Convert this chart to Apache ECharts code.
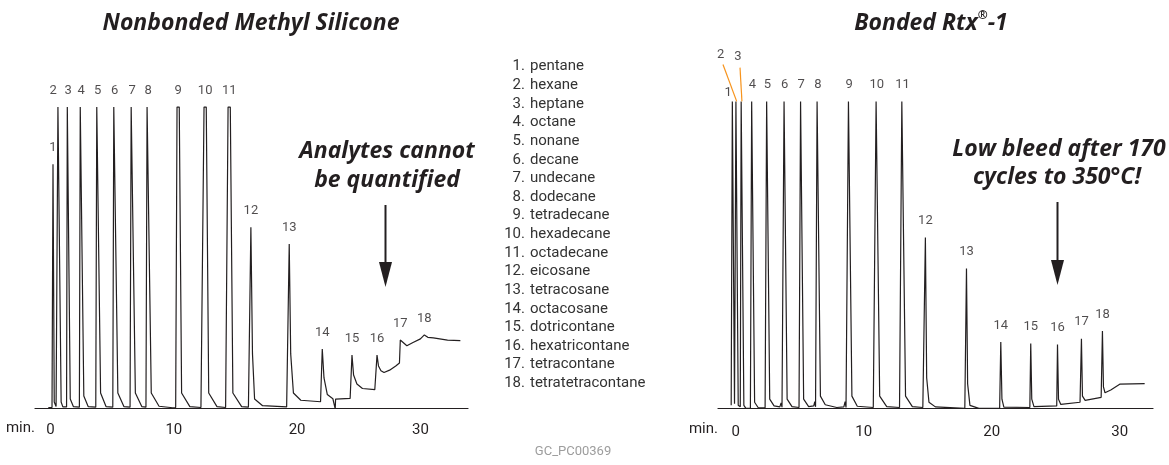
<!DOCTYPE html>
<html>
<head>
<meta charset="utf-8">
<title>Nonbonded vs bonded column bleed</title>
<script src="https://cdn.jsdelivr.net/npm/echarts@6/dist/echarts.min.js"></script>
<style>
  html, body { margin: 0; padding: 0; background: #fff; }
  #chart { width: 1169px; height: 465px; }
</style>
</head>
<body>
<div id="chart"></div>
<script>
// peak list
const compounds = ['pentane', 'hexane', 'heptane', 'octane', 'nonane', 'decane', 'undecane', 'dodecane',
  'tetradecane', 'hexadecane', 'octadecane', 'eicosane', 'tetracosane', 'octacosane', 'dotricontane',
  'hexatricontane', 'tetracontane', 'tetratetracontane']
const tickValues = [0, 10, 20, 30]

// retention time (min) and height (% of full scale) of each numbered peak
const leftPeakTimes = [0.2, 0.69, 1.42, 2.48, 3.83, 5.21, 6.62, 7.91, 10.35, 12.54, 14.49, 16.25, 19.36, 22.04, 24.45, 26.48, 28.37, 30.32]
const leftPeakHeights = [81, 100, 100, 100, 100, 100, 100, 100, 100, 100, 100, 60.1, 54.5, 19.6, 17.6, 17.6, 22.6, 24.3]
const rightPeakTimes = [-0.19, 0.08, 0.49, 1.3, 2.47, 3.83, 5.12, 6.42, 8.87, 11.03, 13.04, 14.82, 18.03, 20.71, 23.05, 25.14, 27.01, 28.65]
const rightPeakHeights = [100, 100, 100, 100, 100, 100, 100, 100, 100, 100, 100, 55.7, 45.6, 21.6, 21.1, 20.8, 22.7, 25.2]

// detector traces [min, signal]
const leftTrace = [
  [-0.18, 0.2], [0.12, 0.2], [0.2, 81], [0.3, 2],
  [0.45, 0.5], [0.6, 100], [0.76, 100], [0.86, 2], [1.0, 0.4],
  [1.3, 0.4], [1.36, 100], [1.48, 100], [1.6, 3], [1.85, 0.5],
  [2.34, 0.3], [2.41, 100], [2.55, 100], [2.7, 4], [3.05, 0.5],
  [3.67, 0.3], [3.75, 100], [3.9, 100], [4.06, 5], [4.5, 0.5],
  [5.05, 0.3], [5.13, 100], [5.29, 100], [5.46, 5], [5.95, 0.5],
  [6.45, 0.3], [6.54, 100], [6.7, 100], [6.88, 5], [7.4, 0.5],
  [7.74, 0.3], [7.83, 100], [7.99, 100], [8.17, 5], [8.8, 0.6], [9.9, 0.1],
  [10.15, 0.2], [10.26, 100], [10.44, 100], [10.63, 5], [11.3, 0.5], [12.2, 0.2],
  [12.35, 0.2], [12.45, 100], [12.63, 100], [12.83, 5], [13.5, 0.5], [14.2, 0.2],
  [14.3, 0.2], [14.4, 100], [14.58, 100], [14.79, 5], [15.5, 0.5], [16.05, 0.3],
  [16.12, 0.3], [16.25, 60.1], [16.38, 18], [16.55, 3], [17.2, 0.8], [19.15, 0.4],
  [19.25, 0.4], [19.36, 54.5], [19.48, 18], [19.7, 5], [20.3, 2.6], [21.9, 2.1],
  [21.98, 2.1], [22.04, 19.6], [22.18, 10], [22.45, 4.5], [22.9, 3.1], [23.06, 3], [23.09, -0.3], [23.12, 3], [24.3, 3.2],
  [24.38, 3.3], [24.45, 17.6], [24.58, 11], [24.85, 8], [25.3, 6.5], [26.3, 6.1],
  [26.4, 6.3], [26.48, 17.6], [26.6, 14], [26.8, 12.4], [27.05, 11.8], [27.5, 12.6], [28.0, 14], [28.3, 15],
  [28.37, 22.6], [28.5, 22], [28.9, 20.7], [29.4, 21.8], [30.0, 23], [30.32, 24.3], [30.6, 23.5], [31.05, 23.3], [32.2, 22.6], [33.24, 22.4]
]
const rightTrace = [
  [-0.35, 1], [-0.26, 100], [-0.15, 100], [-0.09, 1.5], [0.02, 100], [0.13, 100], [0.2, 1], [0.3, 0.5],
  [0.36, 0.5], [0.43, 100], [0.55, 100], [0.64, 1], [0.8, 0], [1.15, 0],
  [1.22, 0.4], [1.25, 100], [1.36, 100], [1.48, 2], [1.75, 0.3], [2.3, 0.2],
  [2.38, 0.3], [2.42, 100], [2.53, 100], [2.66, 3], [3.0, 0.8], [3.45, 0.5], [3.55, 1.8], [3.62, 0.4],
  [3.72, 0.3], [3.78, 100], [3.89, 100], [4.02, 3], [4.4, 0.6], [4.95, 0.3],
  [5.02, 0.3], [5.07, 100], [5.18, 100], [5.31, 3], [5.7, 0.6], [6.1, 0.8], [6.18, 2.2], [6.24, 0.5],
  [6.31, 0.3], [6.36, 100], [6.48, 100], [6.62, 4], [7.0, 1.2], [7.9, 0.3], [8.45, 0.5], [8.55, 2.2], [8.62, 0.3],
  [8.74, 0.3], [8.81, 100], [8.93, 100], [9.08, 4], [9.5, 0.7], [10.75, 0.3],
  [10.9, 0.3], [10.97, 100], [11.09, 100], [11.25, 4], [11.8, 0.6], [12.8, 0.3],
  [12.9, 0.3], [12.98, 100], [13.1, 100], [13.27, 4], [13.8, 0.6], [14.62, 0.3],
  [14.72, 0.3], [14.82, 55.7], [14.92, 10], [15.1, 2], [15.6, 0.5], [17.9, 0],
  [17.96, 0], [18.03, 45.6], [18.12, 8], [18.3, 1], [19.0, 0], [20.62, 0],
  [20.66, 0], [20.71, 21.6], [20.8, 3], [20.95, 0.4], [22.98, 0.3],
  [23.01, 0.3], [23.05, 21.1], [23.13, 3], [23.3, 0.6], [25.08, 0.8],
  [25.1, 0.8], [25.14, 20.8], [25.22, 3], [25.4, 1.3], [26.9, 2],
  [26.96, 2], [27.01, 22.7], [27.09, 4], [27.3, 2.6], [28.55, 3.6],
  [28.6, 3.7], [28.65, 25.2], [28.73, 7], [28.85, 5.1], [29.3, 6], [30.0, 7.9], [31.95, 8.1]
]

const ink = '#231f20'
const labelFont = 'Roboto, sans-serif'
const headFont = '"Open Sans", sans-serif'

// label nudges for crowded early peaks
const leftLabelOffsets = { 1: [-6, 0] }
const rightLabelOffsets = { 0: [-5, 8], 1: [-16, -30], 2: [-4, -28] }
// where the orange leader lines start (peaks 2 and 3 on the bonded column)
const leaderStarts = { 1: [-0.99, 112], 2: [0.34, 111] }

function peakPoints (times, heights, offsets) {
  return times.map((t, i) => {
    const item = { value: [t, heights[i]], name: String(i + 1) }
    if (offsets[i]) item.label = { offset: offsets[i] }
    return item
  })
}

function timeAxis (gridIndex, min, max) {
  return {
    type: 'value',
    gridIndex: gridIndex,
    min: min,
    max: max,
    name: 'min.',
    nameLocation: 'start',
    nameGap: 0,
    nameTextStyle: { color: ink, fontFamily: labelFont, fontSize: 15, verticalAlign: 'top', padding: [13, 0, 0, 0] },
    axisLine: { lineStyle: { color: ink, width: 1.2 } },
    axisTick: { show: false },
    splitLine: { show: false },
    axisLabel: { customValues: tickValues, color: ink, fontFamily: labelFont, fontSize: 15, margin: 8 }
  }
}

function traceSeries (idx, data) {
  return {
    type: 'line',
    xAxisIndex: idx,
    yAxisIndex: idx,
    data: data,
    showSymbol: false,
    silent: true,
    lineStyle: { color: ink, width: 1.2 }
  }
}

function labelSeries (idx, data) {
  return {
    type: 'scatter',
    xAxisIndex: idx,
    yAxisIndex: idx,
    data: data,
    symbolSize: 0,
    silent: true,
    label: {
      show: true,
      position: 'top',
      distance: 10,
      formatter: '{b}',
      color: ink,
      fontFamily: labelFont,
      fontSize: 13
    }
  }
}

const rightTraceSeries = traceSeries(1, rightTrace)
rightTraceSeries.markLine = {
  silent: true,
  symbol: 'none',
  label: { show: false },
  lineStyle: { color: '#f7941d', width: 1.2, type: 'solid' },
  data: Object.keys(leaderStarts).map(i => [
    { coord: leaderStarts[i] },
    { coord: [rightPeakTimes[i], rightPeakHeights[i]] }
  ])
}

// compound key in the middle
const listItems = []
compounds.forEach((name, i) => {
  const y = 66.7 + i * 18.62
  listItems.push({ type: 'text', x: 525, y: y, style: { text: (i + 1) + '.', align: 'right', verticalAlign: 'middle', fill: '#333', font: '15px ' + labelFont } })
  listItems.push({ type: 'text', x: 530, y: y, style: { text: name, align: 'left', verticalAlign: 'middle', fill: '#333', font: '15px ' + labelFont } })
})

function noteText (x, y, text) {
  return { type: 'text', x: x, y: y, style: { text: text, align: 'center', verticalAlign: 'middle', fill: ink, font: 'italic bold 23px ' + headFont } }
}

function arrow (x, y1, y2) {
  return [
    { type: 'line', shape: { x1: x, y1: y1, x2: x, y2: y2 - 20 }, style: { stroke: ink, lineWidth: 2 } },
    { type: 'polygon', shape: { points: [[x - 6.5, y2 - 25], [x + 6.5, y2 - 25], [x, y2]] }, style: { fill: ink } }
  ]
}

const option = {
  animation: false,
  backgroundColor: '#fff',
  grid: [
    { left: 35, right: 701, top: 77, bottom: 50 },
    { left: 718, right: 16, top: 40, bottom: 48 }
  ],
  xAxis: [timeAxis(0, -1.26, 33.86), timeAxis(1, -1.38, 32.6)],
  yAxis: [
    { type: 'value', gridIndex: 0, min: -2.3, max: 110, show: false },
    { type: 'value', gridIndex: 1, min: -2.8, max: 120, show: false }
  ],
  series: [
    traceSeries(0, leftTrace),
    labelSeries(0, peakPoints(leftPeakTimes, leftPeakHeights, leftLabelOffsets)),
    rightTraceSeries,
    labelSeries(1, peakPoints(rightPeakTimes, rightPeakHeights, rightLabelOffsets))
  ],
  graphic: [
    { type: 'text', x: 251, y: 23, style: { text: 'Nonbonded Methyl Silicone', align: 'center', verticalAlign: 'middle', fill: ink, font: 'italic bold 23px ' + headFont } },
    {
      type: 'text', x: 931, y: 23,
      style: {
        text: '{a|Bonded Rtx}{r|®}{a|-1}',
        align: 'center',
        verticalAlign: 'middle',
        rich: {
          a: { fill: ink, fontFamily: headFont, fontSize: 23, fontStyle: 'italic', fontWeight: 'bold', lineHeight: 26 },
          r: { fill: ink, fontFamily: headFont, fontSize: 12, fontStyle: 'italic', fontWeight: 'bold', verticalAlign: 'top', lineHeight: 26 }
        }
      }
    },
    noteText(387, 151, 'Analytes cannot'),
    noteText(387, 180, 'be quantified'),
    noteText(1059, 149, 'Low bleed after 170'),
    noteText(1057, 177, 'cycles to 350°C!'),
    ...arrow(385.5, 205, 287),
    ...arrow(1057.5, 202, 285),
    ...listItems,
    { type: 'text', x: 573, y: 452, style: { text: 'GC_PC00369', align: 'center', verticalAlign: 'middle', fill: '#9d9d9d', font: '13px ' + labelFont } }
  ]
}

const myChart = echarts.init(document.getElementById('chart'))
myChart.setOption(option)
window.addEventListener('resize', () => myChart.resize())
</script>
</body>
</html>
